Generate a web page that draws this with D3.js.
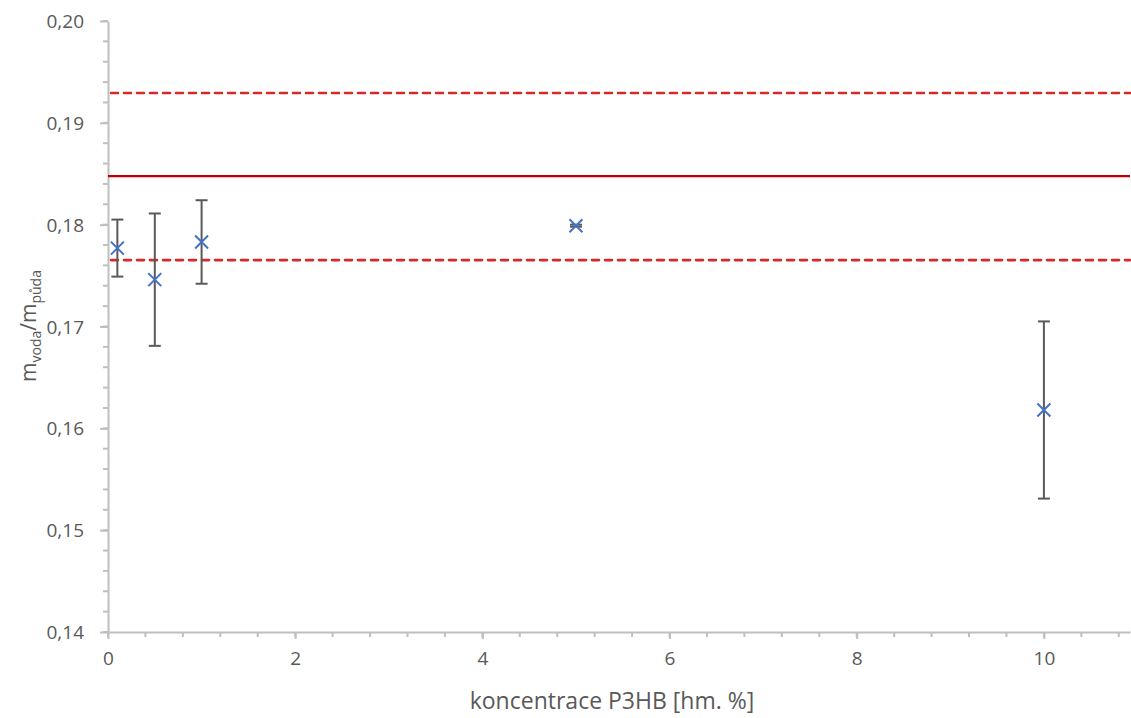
<!DOCTYPE html>
<meta charset="utf-8">
<head><title>koncentrace P3HB</title>
<style>
body { margin: 0; background: #fff; }
text { font-family: "Open Sans", "Noto Sans", sans-serif; fill: #595959; }
.axis path, .axis line { stroke: #bfbfbf; stroke-width: 2px; }
</style>
<svg width="1131" height="718"></svg>
<script src="https://d3js.org/d3.v7.min.js"></script>
<script>

// data
var konc = [0.1, 0.5, 1, 5, 10];
var pomer = [0.1777, 0.1746, 0.1783, 0.1799, 0.1618];
var chybaHorni = [0.0028, 0.0065, 0.0041, 0.0001, 0.0087];
var chybaDolni = [0.0028, 0.0065, 0.0041, 0.0001, 0.0087];
var prumer = 0.18477;
var mezeDolni = 0.17652;
var mezeHorni = 0.19293;
var yTicks = [0.14, 0.15, 0.16, 0.17, 0.18, 0.19, 0.20];
var xTicks = [0, 2, 4, 6, 8, 10];

var svg = d3.select("svg");
var pLeft = 108, pRight = 1130, pTop = 21, pBottom = 632;

var x = d3.scaleLinear().domain([0, 10.92]).range([pLeft, pRight]);
var y = d3.scaleLinear().domain([0.14, 0.20]).range([pBottom, pTop]);

var fmt = function(d) { return d3.format(".2f")(d).replace(".", ","); };

// minor ticks y
var yMinor = d3.range(0.14, 0.2001, 0.002);
svg.append("g").selectAll("line").data(yMinor).enter().append("line")
    .attr("x1", pLeft - 5).attr("x2", pLeft)
    .attr("y1", function(d) { return y(d); }).attr("y2", function(d) { return y(d); })
    .style("stroke", "#bfbfbf").style("stroke-width", 2);

// minor ticks x
var xMinor = d3.range(0, 10.92, 0.4);
svg.append("g").selectAll("line").data(xMinor).enter().append("line")
    .attr("x1", function(d) { return x(d); }).attr("x2", function(d) { return x(d); })
    .attr("y1", pBottom).attr("y2", pBottom + 5)
    .style("stroke", "#bfbfbf").style("stroke-width", 2);

// y axis
var yAxis = svg.append("g").attr("class", "axis")
    .attr("transform", "translate(" + pLeft + ",0)")
    .call(d3.axisLeft(y).tickValues(yTicks).tickFormat(fmt).tickSize(8).tickSizeOuter(0));
yAxis.selectAll("text").style("font-size", "19px").attr("x", -24).attr("dy", "0.35em");

// x axis
var xAxis = svg.append("g").attr("class", "axis")
    .attr("transform", "translate(0," + pBottom + ")")
    .call(d3.axisBottom(x).tickValues(xTicks).tickSize(7).tickSizeOuter(0));
xAxis.selectAll("text").style("font-size", "19px").attr("y", 20);

// reference lines
svg.append("line")
    .attr("x1", pLeft).attr("x2", pRight)
    .attr("y1", y(prumer)).attr("y2", y(prumer))
    .style("stroke", "#c00000").style("stroke-width", 2.2);

svg.selectAll(".meze").data([mezeDolni, mezeHorni]).enter().append("line")
    .attr("class", "meze")
    .attr("x1", pLeft + 3).attr("x2", pRight)
    .attr("y1", function(d) { return y(d); }).attr("y2", function(d) { return y(d); })
    .style("stroke", "#d42a2a").style("stroke-width", 2.6)
    .style("stroke-dasharray", "7,6").style("stroke-linecap", "round");

// error bars
var eb = svg.append("g").selectAll("g").data(konc).enter().append("g");
eb.append("line")
    .attr("x1", function(d) { return x(d); }).attr("x2", function(d) { return x(d); })
    .attr("y1", function(d, i) { return y(pomer[i] + chybaHorni[i]); })
    .attr("y2", function(d, i) { return y(pomer[i] - chybaDolni[i]); })
    .style("stroke", "#595959").style("stroke-width", 2);
eb.append("line")
    .attr("x1", function(d) { return x(d) - 6; }).attr("x2", function(d) { return x(d) + 6; })
    .attr("y1", function(d, i) { return y(pomer[i] + chybaHorni[i]); })
    .attr("y2", function(d, i) { return y(pomer[i] + chybaHorni[i]); })
    .style("stroke", "#595959").style("stroke-width", 2);
eb.append("line")
    .attr("x1", function(d) { return x(d) - 6; }).attr("x2", function(d) { return x(d) + 6; })
    .attr("y1", function(d, i) { return y(pomer[i] - chybaDolni[i]); })
    .attr("y2", function(d, i) { return y(pomer[i] - chybaDolni[i]); })
    .style("stroke", "#595959").style("stroke-width", 2);

// markers
var m = 6.5;
svg.append("g").selectAll("path").data(konc).enter().append("path")
    .attr("d", function(d, i) {
      var cx = x(d), cy = y(pomer[i]);
      return "M" + (cx - m) + "," + (cy - m) + "L" + (cx + m) + "," + (cy + m) +
             "M" + (cx - m) + "," + (cy + m) + "L" + (cx + m) + "," + (cy - m);
    })
    .style("stroke", "#4472c4").style("stroke-width", 2).style("fill", "none");

// axis titles
svg.append("text")
    .attr("x", 612).attr("y", 709)
    .style("text-anchor", "middle").style("font-size", "23px")
    .text("koncentrace P3HB [hm. %]");

var yt = svg.append("text")
    .attr("transform", "translate(36,326) rotate(-90)")
    .style("text-anchor", "middle").style("font-size", "21px");
yt.append("tspan").text("m");
yt.append("tspan").attr("dy", 5).style("font-size", "14px").text("voda");
yt.append("tspan").attr("dy", -5).text("/m");
yt.append("tspan").attr("dy", 5).style("font-size", "14px").text("půda");

</script>
</head>
